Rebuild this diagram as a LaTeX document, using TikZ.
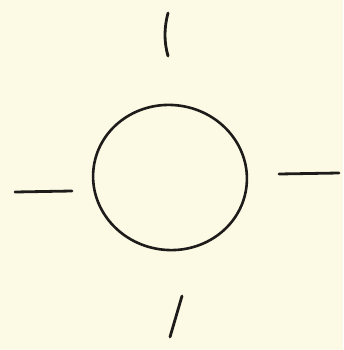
\documentclass[tikz,border=0pt]{standalone}
\usepackage{xcolor}
\usepackage{tikz}
\definecolor{paper}{RGB}{252,250,228}
\definecolor{ink}{RGB}{30,28,26}
\tikzset{
  pen/.style={draw=ink, line width=2.6pt, line cap=round, line join=round},
  tick/.style={pen, line width=2.8pt}
}

\begin{document}
\begin{tikzpicture}[x=1pt, y=-1pt]
  % Paper
  \fill[paper] (0,0) rectangle (343,350);
  \useasboundingbox (0,0) rectangle (343,350);

  % Circle, drawn by hand
  \coordinate (mid) at (170,177.5);
  \draw[pen, rotate around={-8:(mid)}] (mid) ellipse [x radius=77, y radius=72.5];

  % Marks round it
  \coordinate (ntop) at (168,13);
  \coordinate (nbot) at (168,56);
  \draw[tick] (ntop) .. controls (164,28) and (164,42) .. (nbot);

  \coordinate (sbot) at (170,337);
  \coordinate (stop) at (182,296);
  \draw[tick] (stop) -- (sbot);

  \coordinate (wleft) at (15,192);
  \coordinate (wright) at (72,191);
  \draw[tick] (wleft) -- (wright);

  \coordinate (eleft) at (279,174);
  \coordinate (eright) at (339,173);
  \draw[tick] (eleft) -- (eright);
\end{tikzpicture}
\end{document}
